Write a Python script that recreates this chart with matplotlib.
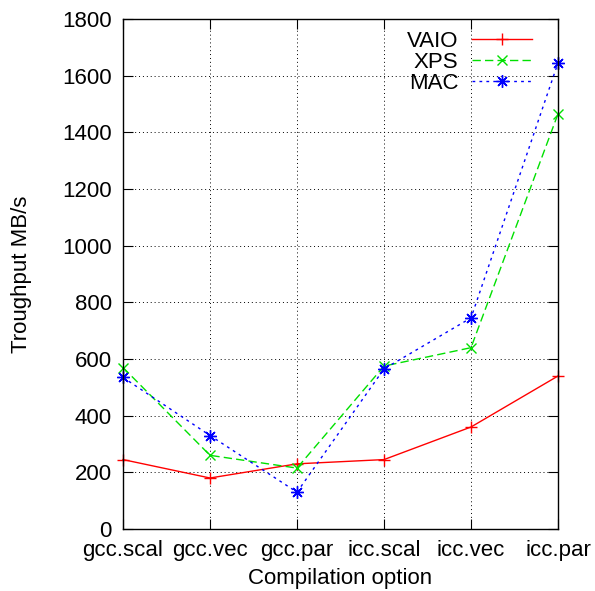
import matplotlib
matplotlib.use("Agg")
import matplotlib.pyplot as plt

# compilation options on the x axis
options = ["gcc.scal", "gcc.vec", "gcc.par", "icc.scal", "icc.vec", "icc.par"]

# throughput in MB/s
vaio = [245, 180, 230, 245, 360, 540]
xps = [570, 260, 215, 575, 640, 1465]
mac = [535, 330, 130, 565, 745, 1645]

y_ticks = [0, 200, 400, 600, 800, 1000, 1200, 1400, 1600, 1800]

plt.rcParams['font.family'] = ['Liberation Sans', 'DejaVu Sans']

fig = plt.figure(figsize=(5.95, 5.91), dpi=100)
ax = fig.add_axes([123 / 595, 62 / 591, 435 / 595, 510 / 591])

x = list(range(len(options)))
ax.plot(x, vaio, color='#ff0000', lw=1.0, linestyle='-', marker='+',
        markersize=9, markeredgewidth=1.0, label='VAIO', clip_on=False)
ax.plot(x, xps, color='#00e000', lw=1.0, linestyle=(0, (6, 3)), marker='x',
        markersize=7, markeredgewidth=1.0, label='XPS', clip_on=False)
ax.plot(x, mac, color='#0000ff', lw=1.0, linestyle=(0, (2, 3)), marker=(8, 2, 0),
        markersize=9, markeredgewidth=1.0, label='MAC', clip_on=False)

ax.set_xlim(0, len(options) - 1)
ax.set_ylim(0, 1800)
ax.set_xticks(x)
ax.set_xticklabels(options)
ax.set_yticks(y_ticks)

ax.grid(True, color='black', linestyle=(0, (1, 3)), lw=0.7)
ax.tick_params(direction='in', top=True, right=True, length=7, labelsize=16, pad=8)
for s in ax.spines.values():
    s.set_linewidth(1.0)

ax.set_xlabel('Compilation option', fontsize=16, labelpad=5)
ax.set_ylabel('Troughput MB/s', fontsize=16, labelpad=22)

ax.legend(loc='upper right', frameon=False, markerfirst=False, fontsize=16,
          handlelength=2.7, handletextpad=0.6, labelspacing=0.0,
          borderpad=0, borderaxespad=0, bbox_to_anchor=(0.94, 0.977))

fig.savefig('out.png', dpi=100)
